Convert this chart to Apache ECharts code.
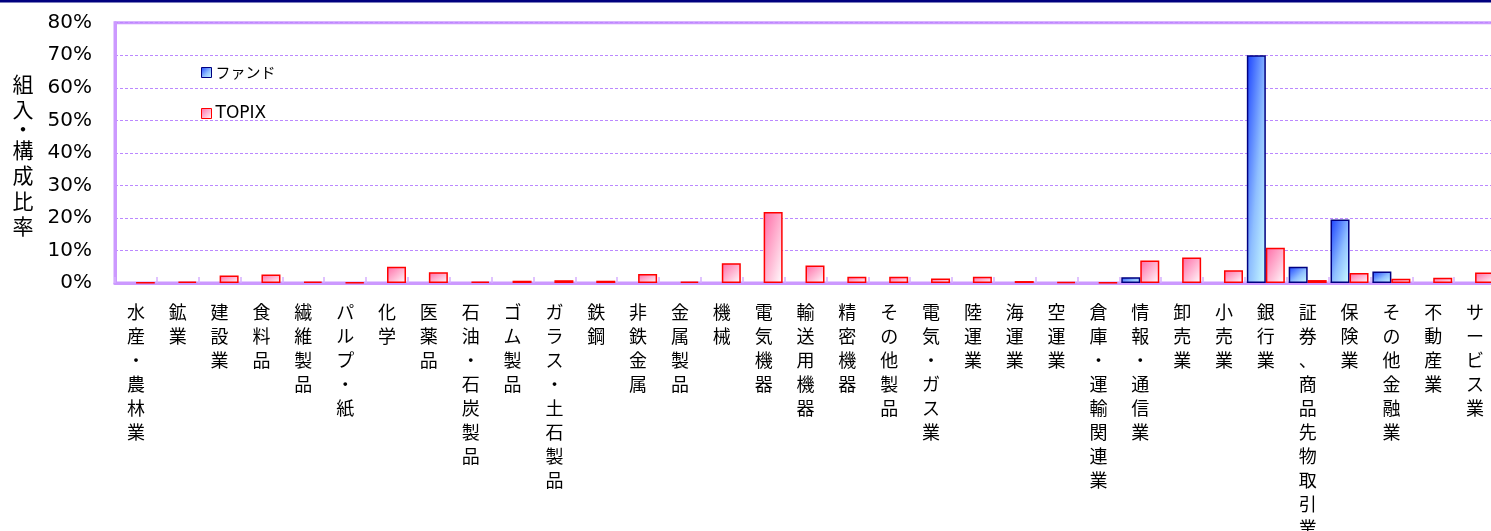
<!DOCTYPE html>
<html>
<head>
<meta charset="utf-8">
<script src="https://cdn.jsdelivr.net/npm/echarts@6/dist/echarts.min.js"></script>
<style>
html,body{margin:0;padding:0;background:#fff;}
#chart{width:1491px;height:531px;}
</style>
</head>
<body>
<div id="chart"></div>
<script>
const categories = ['水産・農林業','鉱業','建設業','食料品','繊維製品','パルプ・紙','化学','医薬品','石油・石炭製品','ゴム製品','ガラス・土石製品','鉄鋼','非鉄金属','金属製品','機械','電気機器','輸送用機器','精密機器','その他製品','電気・ガス業','陸運業','海運業','空運業','倉庫・運輸関連業','情報・通信業','卸売業','小売業','銀行業','証券、商品先物取引業','保険業','その他金融業','不動産業','サービス業'];
const fundValues = [0,0,0,0,0,0,0,0,0,0,0,0,0,0,0,0,0,0,0,0,0,0,0,0,1.8,0,0,70.0,5.0,19.5,3.5,0,0];
const topixValues = [0.1,0.4,2.3,2.6,0.4,0.2,5.0,3.3,0.45,0.7,0.85,0.7,2.8,0.45,6.1,21.8,5.4,1.9,1.9,1.35,1.9,0.6,0.35,0.15,6.9,7.8,3.9,10.8,0.9,3.1,1.3,1.6,3.2];
const seriesNames = ['ファンド','TOPIX'];
const yAxisTitle = ['組','入','・','構','成','比','率'];

const BAR_W = 19;
const PX_PER_PCT = 3.254;

const FUND_STOPS = [[0, '#1a40ff'], [0.55, '#8fbfff'], [1, '#ccffff']];
const TOPIX_STOPS = [[0, '#ff6aa6'], [0.6, '#ffc2da'], [1, '#ffffff']];
const FUND_B = '#000080', TOPIX_B = '#ff0000';

function stops(s) { return s.map(p => ({offset: p[0], color: p[1]})); }
function diagGrad(v, s) {
  const r = Math.max(v * PX_PER_PCT / BAR_W, 0.05);
  const r2 = r * r;
  return new echarts.graphic.LinearGradient(0, 0, 2 * r2 / (r2 + 1), 2 / (1 + r2), stops(s));
}

const fundData = fundValues.map(v => v === 0 ? '-' : {value: v, itemStyle: {color: diagGrad(v, FUND_STOPS)}});
const topixData = topixValues.map(v => ({value: v, itemStyle: {color: diagGrad(v, TOPIX_STOPS)}}));

const chart = echarts.init(document.getElementById('chart'), null, {renderer: 'canvas'});

const titleRich = yAxisTitle.map(c => c === '・' ? '{d|' + c + '}' : '{c|' + c + '}').join('\n');

const option = {
  backgroundColor: '#ffffff',
  animation: false,
  graphic: [
    {type: 'rect', shape: {x: 0, y: 0, width: 1491, height: 2.5}, style: {fill: '#00007f'}, z: 10},
    {type: 'text', x: 23, y: 155, z: 10, style: {
      text: titleRich, align: 'center', verticalAlign: 'middle', fill: '#000',
      rich: {
        c: {fontSize: 21, lineHeight: 25.5, fontFamily: 'Noto Sans CJK JP', fill: '#000'},
        d: {fontSize: 21, lineHeight: 15, fontFamily: 'Noto Sans CJK JP', fill: '#000'}
      }
    }}
  ],
  legend: [
    {data: [{name: seriesNames[0], itemStyle: {color: new echarts.graphic.LinearGradient(0,0,1,1,stops(FUND_STOPS)), borderColor: FUND_B, borderWidth: 1}}],
     left: 201, top: 65, padding: 0, itemWidth: 10, itemHeight: 10, icon: 'rect', itemGap: 0,
     textStyle: {fontSize: 15, fontFamily: 'Noto Sans CJK JP', color: '#000', padding: [0,0,0,-1]}},
    {data: [{name: seriesNames[1], itemStyle: {color: new echarts.graphic.LinearGradient(0,0,1,1,stops(TOPIX_STOPS)), borderColor: TOPIX_B, borderWidth: 1}}],
     left: 201, top: 105, padding: 0, itemWidth: 10, itemHeight: 10, icon: 'rect', itemGap: 0,
     textStyle: {fontSize: 17, fontFamily: 'DejaVu Sans', color: '#000', padding: [0,0,0,-1]}}
  ],
  grid: {left: 115, right: -5, top: 22.7, bottom: 248, show: true, borderColor: '#cc99ff', borderWidth: 3,
         backgroundColor: 'transparent', containLabel: false, outerBoundsMode: 'none'},
  xAxis: {
    type: 'category',
    data: categories,
    axisLine: {lineStyle: {color: '#cc99ff', width: 3}},
    axisTick: {show: true, inside: true, length: 6, lineStyle: {color: '#d6b0ff', width: 1.5}},
    axisLabel: {
      interval: 0, margin: 17, color: '#000', fontSize: 18, lineHeight: 24,
      fontFamily: 'Noto Sans CJK JP', hideOverlap: false,
      formatter: v => v.split('').join('\n')
    },
    splitLine: {show: false}
  },
  yAxis: {
    type: 'value', min: 0, max: 80, interval: 10,
    axisLine: {show: true, lineStyle: {color: '#cc99ff', width: 3}},
    axisTick: {show: false},
    axisLabel: {formatter: '{value}%', color: '#000', fontSize: 20, fontFamily: 'DejaVu Sans', margin: 23},
    splitLine: {show: true, lineStyle: {color: '#bb88ff', width: 1.2, type: [3, 2]}}
  },
  series: [
    {name: seriesNames[0], type: 'bar', data: fundData, barWidth: BAR_W, barGap: '0%',
     itemStyle: {borderColor: FUND_B, borderWidth: 1.5}},
    {name: seriesNames[1], type: 'bar', data: topixData, barWidth: BAR_W, barGap: '0%',
     itemStyle: {borderColor: TOPIX_B, borderWidth: 1.5}}
  ]
};
chart.setOption(option);
</script>
</body>
</html>
